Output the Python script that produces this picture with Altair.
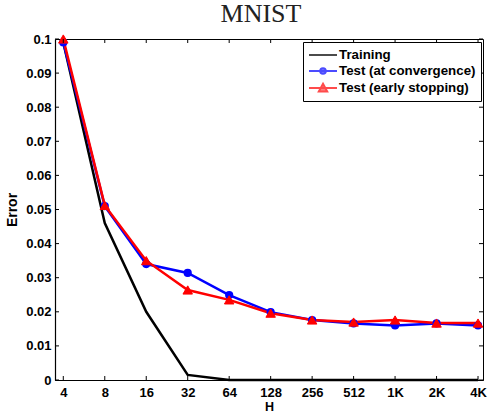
import altair as alt
import pandas as pd

H_labels = ["4", "8", "16", "32", "64", "128", "256", "512", "1K", "2K", "4K"]
training = [0.099, 0.046, 0.020, 0.0015, 0.0, 0.0, 0.0, 0.0, 0.0, 0.0, 0.0]
test_conv = [0.099, 0.051, 0.034, 0.0314, 0.0249, 0.0199, 0.0176, 0.0166, 0.0160, 0.0166, 0.0160]
test_early = [0.100, 0.0512, 0.035, 0.0264, 0.0235, 0.0196, 0.0176, 0.0170, 0.0176, 0.0167, 0.0167]
y_ticks = [0, 0.01, 0.02, 0.03, 0.04, 0.05, 0.06, 0.07, 0.08, 0.09, 0.1]

series_names = ["Training", "Test (at convergence)", "Test (early stopping)"]
series_colors = ["#000000", "#0000ff", "#ff0000"]

rows = []
for name, vals in zip(series_names, [training, test_conv, test_early]):
    for i, v in enumerate(vals):
        rows.append({"idx": i, "H": H_labels[i], "error": v, "series": name})
df = pd.DataFrame(rows)
xt = pd.DataFrame({"idx": list(range(len(H_labels)))})
yt = pd.DataFrame({"error": y_ticks})

W, H = 428, 341
label_expr = "[" + ",".join("'%s'" % s for s in H_labels) + "][datum.value]"

x_scale = alt.Scale(domain=[-0.2, 10.12], nice=False, zero=False)
y_scale = alt.Scale(domain=[0, 0.1], nice=False)
x_axis = alt.Axis(values=list(range(len(H_labels))), labelExpr=label_expr, title="H",
                  tickSize=0, grid=False, labelPadding=6, titlePadding=1, labelOverlap=False,
                  titleFontSize=12.5)
y_axis = alt.Axis(values=y_ticks, format=".2~f", title="Error", tickSize=0,
                  grid=False, labelPadding=4, titlePadding=6, labelOverlap=False)
x_enc = alt.X("idx:Q", scale=x_scale, axis=x_axis)
y_enc = alt.Y("error:Q", scale=y_scale, axis=y_axis)

base = alt.Chart(df)
layers = []
for name, col in zip(series_names, series_colors):
    layers.append(base.transform_filter(alt.datum.series == name)
                  .mark_line(color=col, strokeWidth=2.5).encode(x=x_enc, y=y_enc))
layers.append(base.transform_filter(alt.datum.series == series_names[1])
              .mark_point(shape="circle", filled=True, color=series_colors[1], size=45,
                          stroke=series_colors[1], strokeWidth=1.5, opacity=1)
              .encode(x=x_enc, y=y_enc))
layers.append(base.transform_filter(alt.datum.series == series_names[2])
              .mark_point(shape="triangle-up", filled=True, color=series_colors[2], size=90,
                          stroke=series_colors[2], strokeWidth=1, opacity=1)
              .encode(x=x_enc, y=y_enc))

# inward ticks (Matlab-style box)
tick_col = "#000000"
layers.append(alt.Chart(xt).mark_rule(color=tick_col, strokeWidth=1).encode(
    x=x_enc, y=alt.value(H), y2=alt.value(H - 4)))
layers.append(alt.Chart(xt).mark_rule(color=tick_col, strokeWidth=1).encode(
    x=x_enc, y=alt.value(0), y2=alt.value(4)))
layers.append(alt.Chart(yt).mark_rule(color=tick_col, strokeWidth=1).encode(
    y=y_enc, x=alt.value(0), x2=alt.value(4)))
layers.append(alt.Chart(yt).mark_rule(color=tick_col, strokeWidth=1).encode(
    y=y_enc, x=alt.value(W), x2=alt.value(W - 4)))

# legend-only layer (no data drawn); symbols are a line segment with marker
shapes = [
    "M-1,0H3",
    "M-1,0H3M1.4,0A0.4,0.4,0,1,1,0.6,0A0.4,0.4,0,1,1,1.4,0Z",
    "M-1,0H3M1,-0.6L1.6,0.5L0.4,0.5Z",
]
legend_layer = base.transform_filter("false").mark_point(filled=True, strokeWidth=2, size=196).encode(
    x=x_enc, y=y_enc,
    shape=alt.Shape("series:N", scale=alt.Scale(domain=series_names, range=shapes), title=None),
    fill=alt.Fill("series:N", scale=alt.Scale(domain=series_names, range=series_colors), title=None),
    stroke=alt.Stroke("series:N", scale=alt.Scale(domain=series_names, range=series_colors), title=None),
)
layers.append(legend_layer)

chart = alt.layer(*layers).properties(
    width=W, height=H,
    title=alt.TitleParams("MNIST", font="Liberation Serif", fontSize=26, fontWeight="normal",
                          color="#222222", anchor="middle", dx=-8, offset=6),
    autosize=alt.AutoSizeParams(type="none"),
    padding={"left": 55, "top": 39, "right": 6, "bottom": 32},
).configure_view(stroke="#000000", strokeWidth=1).configure_axis(
    domainColor="#000000", domainWidth=1.2, labelOverlap=False,
    labelFont="Liberation Sans", labelFontWeight="bold", labelFontSize=13, labelColor="#000000",
    titleFont="Liberation Sans", titleFontWeight="bold", titleFontSize=14, titleColor="#000000",
).configure_legend(
    orient="none", legendX=248, legendY=3,
    strokeColor="#000000", fillColor="#ffffff", padding=5, cornerRadius=0,
    labelFont="Liberation Sans", labelFontWeight="bold", labelFontSize=13.3, labelColor="#000000",
    symbolSize=196, symbolStrokeWidth=2, rowPadding=1, labelOffset=15, labelLimit=300,
)

chart.save("out.html", embed_options={"renderer": "svg", "actions": False})
